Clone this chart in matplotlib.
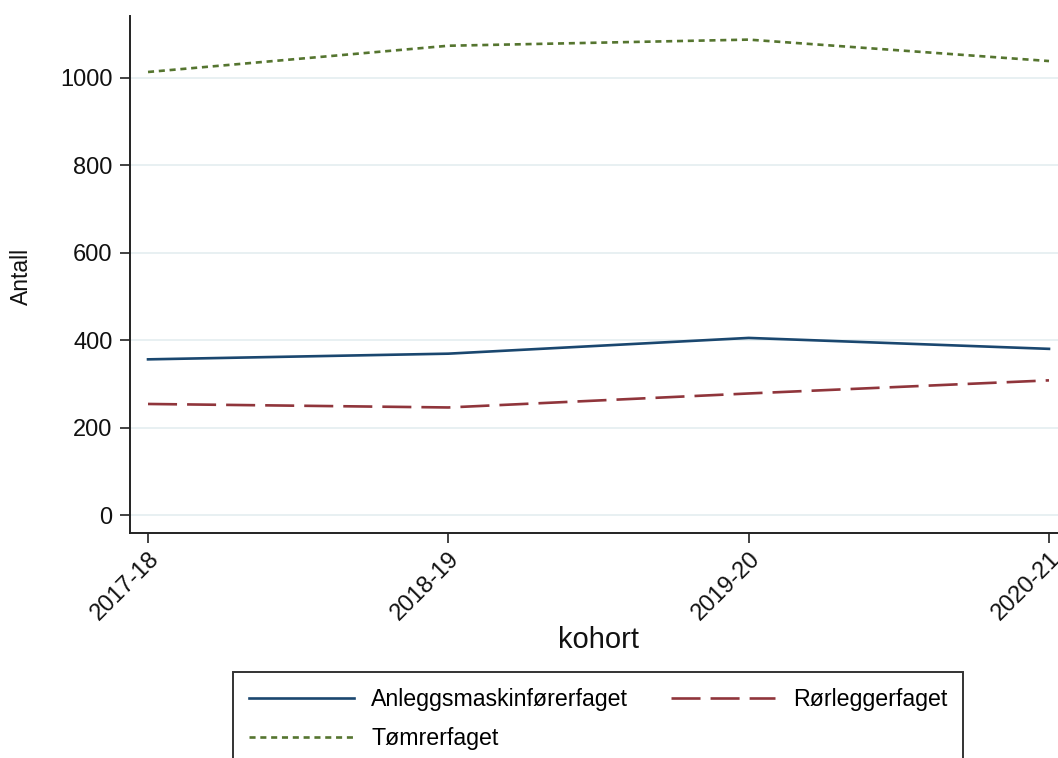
import matplotlib
matplotlib.use("Agg")
import matplotlib.pyplot as plt

cohorts = ["2017-18", "2018-19", "2019-20", "2020-21"]
anlegg = [356, 369, 405, 380]
rorlegger = [254, 246, 278, 308]
tomrer = [1013, 1073, 1087, 1038]
yticks = [0, 200, 400, 600, 800, 1000]

plt.rcParams['font.family'] = ['Liberation Sans', 'DejaVu Sans']

W, H = 1058, 758
fig = plt.figure(figsize=(W / 100, H / 100), dpi=100)
left, right, top, bottom = 130, 1058, 16, 533
ax = fig.add_axes([left / W, 1 - bottom / H, (right - left) / W, (bottom - top) / H])

x = list(range(len(cohorts)))
l1, = ax.plot(x, anlegg, color='#1a476f', lw=1.9, label='Anleggsmaskinførerfaget')
l2, = ax.plot(x, rorlegger, color='#90353b', lw=1.9, dashes=(11, 3.8), label='Rørleggerfaget')
l3, = ax.plot(x, tomrer, color='#55752f', lw=1.9, dashes=(2.3, 1.8), label='Tømrerfaget')

ax.set_xlim(-0.06, 3.03)
ax.set_ylim(-41, 1141)
ax.set_yticks(yticks)
ax.set_yticklabels([str(v) for v in yticks])
ax.set_xticks(x)
ax.set_xticklabels(cohorts, rotation=45, ha='right', rotation_mode='anchor')

ax.grid(axis='y', color='#e4eef0', lw=1.2)
ax.set_axisbelow(True)
for s in ['top', 'right']:
    ax.spines[s].set_visible(False)
for s in ['left', 'bottom']:
    ax.spines[s].set_linewidth(1.4)
    ax.spines[s].set_color('#222222')
ax.tick_params(axis='both', which='major', labelsize=17, length=7.5, width=1.2,
               color='#222222', labelcolor='#111111')
ax.tick_params(axis='y', pad=5)
ax.tick_params(axis='x', pad=3)

ax.set_xlabel('kohort', fontsize=21, color='#111111')
ax.xaxis.set_label_coords((598 - left) / (right - left), (bottom - 626) / (bottom - top))
ax.set_ylabel('Antall', fontsize=16.5, color='#111111')
ax.yaxis.set_label_coords((33 - left) / (right - left), 0.5 + (274.5 - 276) / (bottom - top))

# column-major fill: col 1 = Anlegg, Tømrer; col 2 = Rørlegger
leg = fig.legend(handles=[l1, l3, l2], loc='upper left',
                 bbox_to_anchor=(233 / W, 1 - 672 / H), borderaxespad=0,
                 ncol=2, fontsize=16.7, handlelength=4.5, handletextpad=0.75,
                 columnspacing=1.85, borderpad=0.7, labelspacing=0.68,
                 fancybox=False, framealpha=1, frameon=True)
leg.get_frame().set_edgecolor('#333333')
leg.get_frame().set_linewidth(1.4)

fig.savefig('out.png', dpi=100)
